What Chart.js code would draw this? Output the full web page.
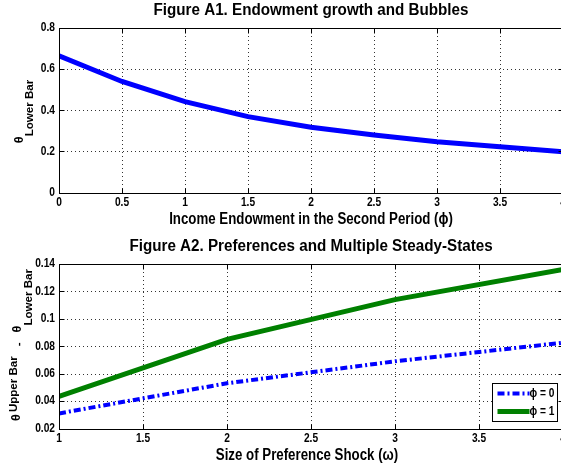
<!DOCTYPE html>
<html>
<head>
<meta charset="utf-8">
<title>Figure A1 / A2</title>
<script src="https://cdn.jsdelivr.net/npm/chart.js@4.4.1/dist/chart.umd.min.js"></script>
<style>
  html, body { margin: 0; padding: 0; background: #fff; }
  body { width: 561px; height: 472px; overflow: hidden; }
  canvas { display: block; }
</style>
</head>
<body>
<canvas id="chart-a1" width="600" height="236"></canvas>
<canvas id="chart-a2" width="600" height="236"></canvas>
<script>
// Figure A1: endowment growth and bubbles
const endowment = [0, 0.5, 1, 1.5, 2, 2.5, 3, 3.5, 4];
const thetaLower = [0.665, 0.54, 0.442, 0.369, 0.317, 0.28, 0.247, 0.222, 0.198];
const endowmentTicks = [0, 0.5, 1, 1.5, 2, 2.5, 3, 3.5, 4];
const thetaTicks = [0, 0.2, 0.4, 0.6, 0.8];

// Figure A2: preferences and multiple steady-states
const shockSize = [1, 2, 3, 4];
const gapPhi0 = [0.031, 0.053, 0.069, 0.0826];
const gapPhi1 = [0.0435, 0.085, 0.114, 0.136];
const shockTicks = [1, 1.5, 2, 2.5, 3, 3.5, 4];
const gapTicks = [0.02, 0.04, 0.06, 0.08, 0.1, 0.12, 0.14];
const seriesLabels = ['ϕ = 0', 'ϕ = 1'];

const SANS = "'Liberation Sans', Arial, sans-serif";
const TICK_FONT = 'bold 12px ' + SANS;

const fmt = v => String(+(+v).toFixed(4));

function axes(xTicks, yTicks) {
  return {
    x: {
      type: 'linear',
      min: xTicks[0],
      max: xTicks[xTicks.length - 1],
      afterBuildTicks: s => { s.ticks = xTicks.map(v => ({ value: v })); },
      afterFit: s => { s.height = 43.5; },
      grid: { display: false, drawTicks: false },
      border: { display: false },
      ticks: { display: false }
    },
    y: {
      type: 'linear',
      min: yTicks[0],
      max: yTicks[yTicks.length - 1],
      afterBuildTicks: s => { s.ticks = yTicks.map(v => ({ value: v })); },
      afterFit: s => { s.width = 59; },
      grid: { display: false, drawTicks: false },
      border: { display: false },
      ticks: { display: false }
    }
  };
}

// horizontally squeezed text, the matlab export looks condensed
function squeezed(ctx, str, x, y, font, sx, align) {
  ctx.save();
  ctx.fillStyle = '#000';
  ctx.font = font;
  ctx.textAlign = align || 'center';
  ctx.textBaseline = 'middle';
  ctx.translate(x, y);
  ctx.scale(sx, 1);
  ctx.fillText(str, 0, 0);
  ctx.restore();
}

// text rotated 90deg counter-clockwise, made of parts (sub/superscripts)
function drawRotated(ctx, cy, parts, stretch) {
  ctx.save();
  ctx.fillStyle = '#000';
  ctx.textBaseline = 'middle';
  ctx.textAlign = 'left';
  const widths = parts.map(p => { ctx.font = p.font; return ctx.measureText(p.text).width * stretch + (p.pad || 0); });
  const total = widths.reduce((s, w) => s + w, 0);
  ctx.translate(0, cy);
  ctx.rotate(-Math.PI / 2);
  let lx = -total / 2;
  parts.forEach((p, i) => {
    ctx.save();
    ctx.font = p.font;
    ctx.translate(lx + (p.pad || 0), p.x);
    ctx.scale(stretch, 1);
    ctx.fillText(p.text, 0, 0);
    ctx.restore();
    lx += widths[i];
  });
  ctx.restore();
}

// matlab-like frame: dotted grid, box, inward ticks, labels, legend
function figurePlugin(cfg) {
  return {
    id: 'figure',
    beforeDatasetsDraw(chart) {
      const { ctx, chartArea: a, scales: { x, y } } = chart;
      ctx.save();
      ctx.strokeStyle = '#333';
      ctx.lineWidth = 1;
      ctx.setLineDash([1, 3]);
      x.ticks.forEach(t => {
        const px = Math.round(x.getPixelForValue(t.value)) + 0.5;
        if (px < a.left + 2 || px > a.right - 2) return;
        ctx.beginPath(); ctx.moveTo(px, a.top); ctx.lineTo(px, a.bottom); ctx.stroke();
      });
      y.ticks.forEach(t => {
        const py = Math.round(y.getPixelForValue(t.value)) + 0.5;
        if (py < a.top + 2 || py > a.bottom - 2) return;
        ctx.beginPath(); ctx.moveTo(a.left, py); ctx.lineTo(a.right, py); ctx.stroke();
      });
      ctx.restore();
    },
    afterDatasetsDraw(chart) {
      const { ctx, chartArea: a, scales: { x, y } } = chart;
      const L = Math.round(a.left) + 0.5, R = Math.round(a.right) + 0.5;
      const T = Math.round(a.top) + 0.5, B = Math.round(a.bottom) + 0.5;
      ctx.save();
      ctx.strokeStyle = '#000';
      ctx.lineWidth = 1;
      ctx.setLineDash([]);
      ctx.strokeRect(L, T, R - L, B - T);
      ctx.beginPath();
      x.ticks.forEach(t => {
        const px = Math.round(x.getPixelForValue(t.value)) + 0.5;
        ctx.moveTo(px, B); ctx.lineTo(px, B - 5);
        ctx.moveTo(px, T); ctx.lineTo(px, T + 5);
      });
      y.ticks.forEach(t => {
        const py = Math.round(y.getPixelForValue(t.value)) + 0.5;
        ctx.moveTo(L, py); ctx.lineTo(L + 5, py);
        ctx.moveTo(R, py); ctx.lineTo(R - 5, py);
      });
      ctx.stroke();

      if (cfg.legend) {
        const bw = 65, bh = 38;
        const bx = Math.round(a.right - 71) + 0.5, by = Math.round(a.bottom - 45.5) + 0.5;
        ctx.fillStyle = '#fff';
        ctx.fillRect(bx, by, bw, bh);
        ctx.strokeRect(bx, by, bw, bh);
        chart.data.datasets.forEach((ds, i) => {
          const ry = by + 10 + i * 18;
          ctx.save();
          ctx.strokeStyle = ds.borderColor;
          ctx.lineWidth = ds.borderWidth;
          ctx.setLineDash(ds.borderDash || []);
          ctx.beginPath(); ctx.moveTo(bx + 5, ry); ctx.lineTo(bx + 37, ry); ctx.stroke();
          ctx.restore();
          squeezed(ctx, ds.label, bx + 37, ry + 0.5, TICK_FONT, 0.85, 'left');
        });
      }
      ctx.restore();
    },
    afterDraw(chart) {
      const { ctx, chartArea: a, scales: { x, y } } = chart;
      const cx = (a.left + a.right) / 2;
      x.ticks.forEach(t => squeezed(ctx, fmt(t.value), x.getPixelForValue(t.value), a.bottom + 10.5, TICK_FONT, 0.85));
      y.ticks.forEach(t => squeezed(ctx, fmt(t.value), a.left - 4, y.getPixelForValue(t.value), TICK_FONT, 0.85, 'right'));
      squeezed(ctx, cfg.title, cx, 11, 'bold 16px ' + SANS, 0.95);
      squeezed(ctx, cfg.xTitle, cx + (cfg.xTitleShift || 0), a.bottom + 27.5, 'bold 16px ' + SANS, 0.83);
      drawRotated(ctx, cfg.yLabelCenter, cfg.yLabel, 1.05);
    }
  };
}

const thetaFont = 'bold 12px ' + SANS;
const scriptFont = 'bold 11px ' + SANS;

const baseOptions = {
  responsive: false,
  animation: false,
  events: [],
  layout: { padding: { top: 28, right: 37, left: 0, bottom: 0 } },
  plugins: { legend: { display: false }, tooltip: { enabled: false } },
  elements: { point: { radius: 0 }, line: { tension: 0 } }
};

new Chart(document.getElementById('chart-a1'), {
  type: 'line',
  data: {
    datasets: [{
      label: 'θ Lower Bar',
      data: endowment.map((v, i) => ({ x: v, y: thetaLower[i] })),
      borderColor: '#0000ff',
      borderWidth: 5,
      fill: false
    }]
  },
  options: { ...baseOptions, scales: axes(endowmentTicks, thetaTicks) },
  plugins: [figurePlugin({
    title: 'Figure A1. Endowment growth and Bubbles',
    xTitle: 'Income Endowment in the Second Period (ϕ)',
    yLabelCenter: 111.5,
    yLabel: [
      { text: 'θ', font: thetaFont, x: 20 },
      { text: 'Lower Bar', font: scriptFont, x: 29.5 }
    ]
  })]
});

new Chart(document.getElementById('chart-a2'), {
  type: 'line',
  data: {
    datasets: [{
      label: seriesLabels[0],
      data: shockSize.map((v, i) => ({ x: v, y: gapPhi0[i] })),
      borderColor: '#0000ff',
      borderWidth: 4,
      borderDash: [7, 3, 2, 3],
      fill: false
    }, {
      label: seriesLabels[1],
      data: shockSize.map((v, i) => ({ x: v, y: gapPhi1[i] })),
      borderColor: '#008000',
      borderWidth: 5,
      fill: false
    }]
  },
  options: { ...baseOptions, scales: axes(shockTicks, gapTicks) },
  plugins: [figurePlugin({
    title: 'Figure A2. Preferences and Multiple Steady-States',
    xTitle: 'Size of Preference Shock (ω)',
    xTitleShift: -4,
    legend: true,
    yLabelCenter: 109,
    yLabel: [
      { text: 'θ', font: thetaFont, x: 16.5 },
      { text: 'Upper Bar', font: scriptFont, x: 13.5, pad: 2 },
      { text: '-', font: scriptFont, x: 19, pad: 10 },
      { text: 'θ', font: thetaFont, x: 18, pad: 10 },
      { text: 'Lower Bar', font: scriptFont, x: 29 }
    ]
  })]
});
</script>
</body>
</html>
